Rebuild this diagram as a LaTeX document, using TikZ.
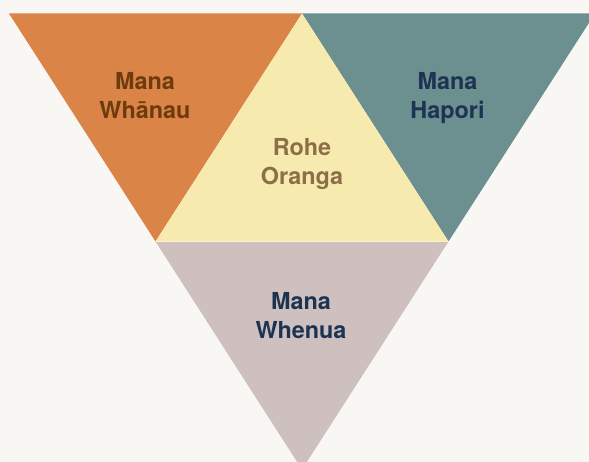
\documentclass[tikz,border=0pt]{standalone}
\usepackage{fontspec}
\setmainfont{TeX Gyre Heros}
\definecolor{bgc}{HTML}{F8F7F4}
\definecolor{orangefill}{HTML}{DA8447}
\definecolor{tealfill}{HTML}{6C8F90}
\definecolor{yellowfill}{HTML}{F7EAAF}
\definecolor{mauvefill}{HTML}{CEC0BE}
\definecolor{browntext}{HTML}{6E3C0C}
\definecolor{khakitext}{HTML}{8C6E48}
\definecolor{navytext}{HTML}{1C3352}
\tikzset{
  part/.style={draw=none},
  lbl/.style={anchor=north, inner sep=0pt, align=center,
    font=\fontsize{23.4}{29}\selectfont\bfseries}
}
\begin{document}
\begin{tikzpicture}[x=1pt,y=-1pt]
\useasboundingbox (0,0) rectangle (589,462);
\fill[bgc] (0,0) rectangle (589,462);
\clip (0,0) rectangle (589,462);
% vertices
\coordinate (A) at (9,13.5);
\coordinate (B) at (302,13.5);
\coordinate (C) at (595,13.5);
\coordinate (D) at (155.5,241.5);
\coordinate (E) at (448.5,241.5);
\coordinate (F) at (302,469.5);
\fill[orangefill, part] (A) -- (B) -- (D) -- cycle;
\fill[tealfill, part] (B) -- (C) -- (E) -- cycle;
\fill[yellowfill, part] (B) -- (E) -- (D) -- cycle;
\fill[mauvefill, part] (D) -- (E) -- (F) -- cycle;
\draw[line width=0.8pt, color=yellowfill!60!white] (D) -- (E);
\node[lbl, text=browntext] (whanau) at (145,72.2) {Mana\\Whānau};
\node[lbl, text=navytext] (hapori) at (447.5,72.2) {Mana\\Hapori};
\node[lbl, text=khakitext] (rohe) at (302,138.2) {Rohe\\Oranga};
\node[lbl, text=navytext] (whenua) at (301,292.2) {Mana\\Whenua};
\end{tikzpicture}
\end{document}
